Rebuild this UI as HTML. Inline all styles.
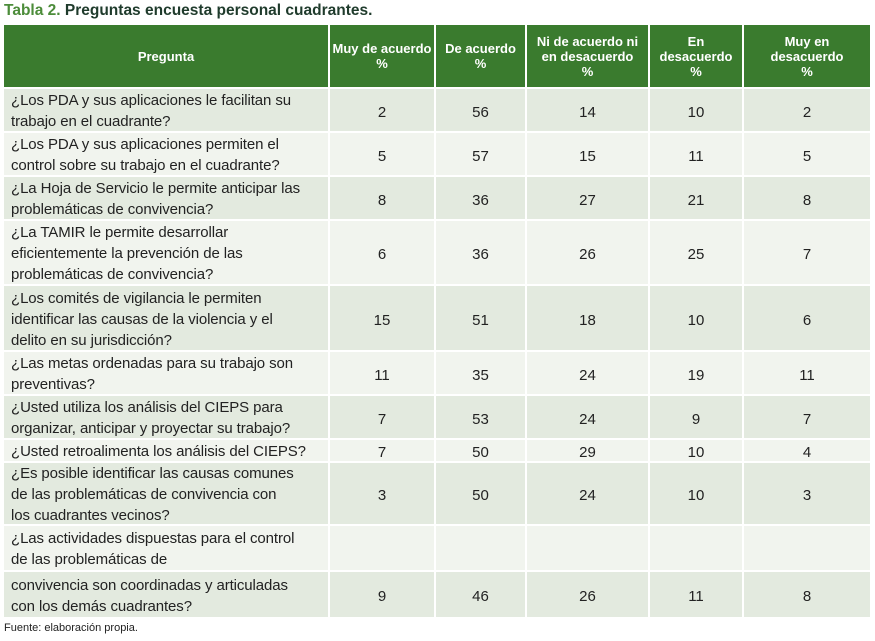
<!DOCTYPE html>
<html><head><meta charset="utf-8">
<style>
body{margin:0;width:875px;height:641px;background:#fff;position:relative;overflow:hidden;font-family:"Liberation Sans",sans-serif}
.c{position:absolute;box-sizing:border-box;display:flex;align-items:center;color:#222;font-size:15px;line-height:21px}
.h{background:#3a7b2e;color:#fff;font-weight:bold;font-size:13px;line-height:15px;justify-content:center;text-align:center}
.q{padding-left:7px;padding-top:2px;letter-spacing:-0.1px}
.n{justify-content:center;padding-top:4px}
.d{background:#e3eadf}.l{background:#f1f4ee}
#title{position:absolute;left:4px;top:2px;font-size:15.5px;font-weight:bold;color:#1f3b2c}
#title span{color:#4c8c3a}
#src{position:absolute;left:4px;top:622px;font-size:11px;color:#222}
</style></head><body>
<div id="title"><span>Tabla 2.</span> Preguntas encuesta personal cuadrantes.</div>
<div id="tbl"></div>
<div id="src">Fuente: elaboración propia.</div>
<script>
const headers=["Pregunta","Muy de acuerdo<br>%","De acuerdo<br>%","Ni de acuerdo ni<br>en desacuerdo<br>%","En<br>desacuerdo<br>%","Muy en<br>desacuerdo<br>%"];
const questions=["¿Los PDA y sus aplicaciones le facilitan su<br>trabajo en el cuadrante?","¿Los PDA y sus aplicaciones permiten el<br>control sobre su trabajo en el cuadrante?","¿La Hoja de Servicio le permite anticipar las<br>problemáticas de convivencia?","¿La TAMIR le permite desarrollar<br>eficientemente la prevención de las<br>problemáticas de convivencia?","¿Los comités de vigilancia le permiten<br>identificar las causas de la violencia y el<br>delito en su jurisdicción?","¿Las metas ordenadas para su trabajo son<br>preventivas?","¿Usted utiliza los análisis del CIEPS para<br>organizar, anticipar y proyectar su trabajo?","¿Usted retroalimenta los análisis del CIEPS?","¿Es posible identificar las causas comunes<br>de las problemáticas de convivencia con<br>los cuadrantes vecinos?","¿Las actividades dispuestas para el control<br>de las problemáticas de","convivencia son coordinadas y articuladas<br>con los demás cuadrantes?"];
const muyAcuerdo=[2,5,8,6,15,11,7,7,3,null,9];
const acuerdo=[56,57,36,36,51,35,53,50,50,null,46];
const neutral=[14,15,27,26,18,24,24,29,24,null,26];
const desacuerdo=[10,11,21,25,10,19,9,10,10,null,11];
const muyDesacuerdo=[2,5,8,7,6,11,7,4,3,null,8];
const colX=[4,330,436,527,650,744,870];
const rowY=[25,89,133,177,221,286,352,396,440,463,526,572,619];
const tbl=document.getElementById('tbl');
function cell(x0,x1,y0,y1,cls,html){
  const d=document.createElement('div');
  d.className='c '+cls;
  d.style.left=x0+'px';d.style.top=y0+'px';
  d.style.width=(x1-x0-2)+'px';d.style.height=(y1-y0-2)+'px';
  d.innerHTML=html;tbl.appendChild(d);return d;
}
headers.forEach((h,i)=>{
  const d=cell(colX[i],colX[i+1]+(i==5?2:0),rowY[0],rowY[1],'h',h);
  
  
});
const cols=[muyAcuerdo,acuerdo,neutral,desacuerdo,muyDesacuerdo];
questions.forEach((q,r)=>{
  const bg=r%2==0?'d':'l';
  const y0=rowY[r+1],y1=rowY[r+2];
  const d=cell(colX[0],colX[1],y0,y1,'q '+bg,q);
  
  
  cols.forEach((arr,c)=>{
    const v=arr[r];
    const e=cell(colX[c+1],colX[c+2]+(c==4?2:0),y0,y1,'n '+bg,v==null?'':String(v));
    
    
  });
});
</script>
</body></html>
